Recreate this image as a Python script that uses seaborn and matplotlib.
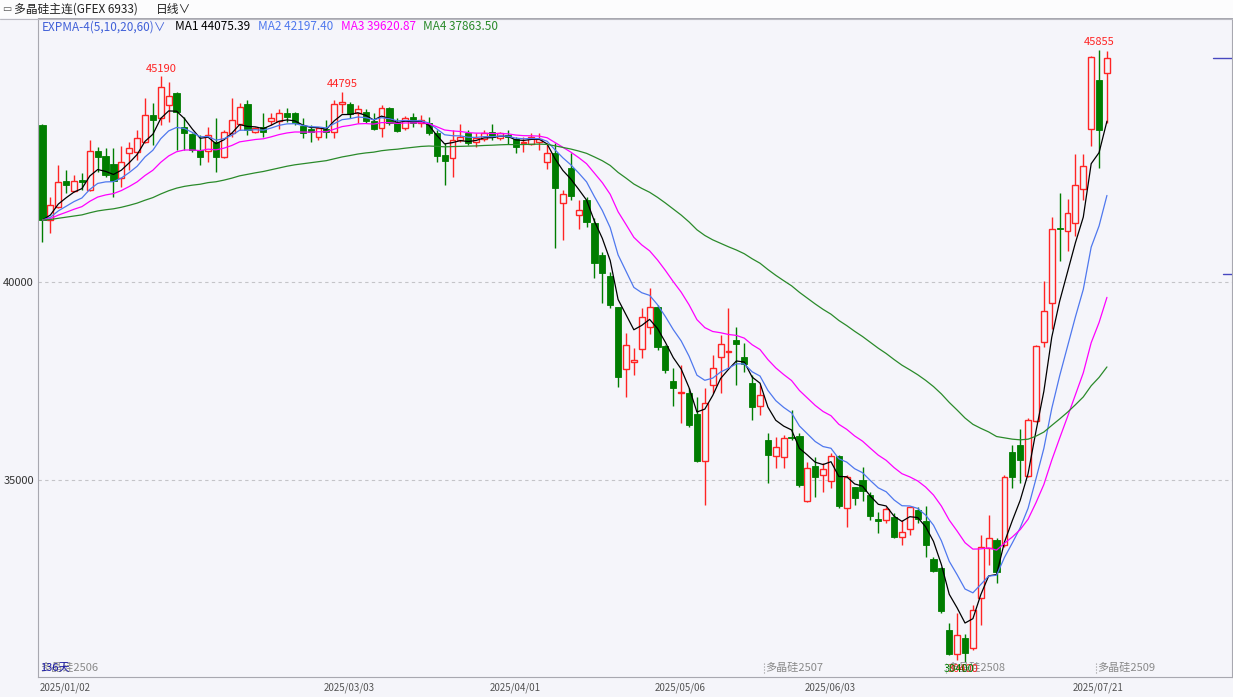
import numpy as np
import pandas as pd
import matplotlib
matplotlib.use('Agg')
import matplotlib.pyplot as plt
import seaborn as sns
from matplotlib.transforms import blended_transform_factory

# 多晶硅主连 日线 OHLC (2025/01/02 - 2025/07/25, 136 个交易日)
opens = [
    43964, 41565, 41901, 42558, 42305, 42575, 42323, 43315, 43182, 42980,
    42618, 43257, 43290, 43543, 44217, 44133, 44469, 44780, 43921, 43737,
    43333, 43308, 43543, 43164, 43755, 43982, 44494, 43780, 43922, 44073,
    44065, 44260, 44260, 43947, 43856, 43669, 43856, 43780, 44487, 44494,
    44260, 44285, 44073, 43881, 44386, 44032, 43881, 44159, 44022, 44007,
    43755, 43207, 43123, 43586, 43770, 43527, 43603, 43795, 43628, 43712,
    43611, 43502, 43484, 43543, 43038, 43265, 41987, 42871, 41684, 42071,
    41497, 40674, 40159, 39376, 37796, 37988, 38300, 38872, 39376, 38384,
    37508, 37190, 37190, 36667, 35488, 37407, 38106, 38225, 38535, 38099,
    37442, 36877, 36010, 35614, 35589, 36094, 36111, 34478, 35354, 35127,
    34983, 35614, 34286, 34816, 35001, 34622, 34008, 33991, 34074, 33554,
    33756, 34243, 33973, 33006, 32786, 31213, 30607, 31003, 30751, 32013,
    33276, 33486, 33359, 35695, 35884, 35091, 36480, 38490, 39482, 41376,
    41288, 41492, 42341, 43873, 45090, 45270]
closes = [
    41565, 41944, 42517, 42449, 42558, 42533, 43315, 43164, 42702, 42558,
    43038, 43384, 43636, 44217, 44090, 44931, 44697, 44300, 43755, 43333,
    43164, 43712, 43164, 43780, 44090, 44411, 43838, 43896, 43780, 44133,
    44260, 44159, 44022, 43755, 43780, 43881, 43780, 44494, 44545, 44234,
    44361, 44073, 43856, 44386, 44007, 43820, 44133, 44022, 44090, 43755,
    43189, 43055, 43586, 43669, 43502, 43628, 43770, 43654, 43755, 43669,
    43416, 43543, 43654, 43611, 43250, 42366, 42222, 42172, 41818, 41523,
    40472, 40235, 39419, 37594, 38410, 38030, 39124, 39361, 38366, 37778,
    37316, 37230, 36389, 35488, 36937, 37821, 38422, 38258, 38427, 37930,
    36836, 37139, 35632, 35841, 36069, 36069, 34874, 35296, 35084, 35271,
    35607, 34344, 35069, 34538, 34731, 34092, 33973, 34260, 33569, 33695,
    34311, 34008, 33359, 32710, 31700, 30607, 31087, 30624, 31718, 33316,
    33528, 32685, 35064, 35064, 35515, 36516, 38374, 39258, 41331, 41331,
    41742, 42459, 42937, 45681, 43828, 45648]
highs = [
    43990, 42154, 42954, 42828, 42702, 42752, 43585, 43401, 43384, 43384,
    43434, 43543, 43838, 44646, 44520, 45190, 45058, 44805, 44174, 43760,
    43712, 43922, 44141, 43838, 44638, 44520, 44596, 43922, 44275, 44267,
    44368, 44393, 44280, 44141, 43964, 43922, 44090, 44596, 44795, 44553,
    44469, 44361, 44260, 44469, 44427, 44133, 44192, 44260, 44214, 44174,
    43838, 43502, 43838, 43990, 43838, 43755, 43838, 43990, 43795, 43838,
    43669, 43669, 43755, 43755, 43502, 43502, 42323, 43250, 42071, 42154,
    41608, 40765, 40260, 39376, 38705, 38326, 39336, 39841, 39419, 38409,
    37821, 37904, 37316, 37104, 37316, 38157, 38662, 39336, 38872, 38452,
    37652, 37400, 36180, 36094, 36137, 36768, 36180, 35463, 35589, 35422,
    35674, 35632, 35127, 34831, 35336, 34705, 34200, 34326, 34159, 33991,
    34326, 34326, 34344, 33064, 32811, 31382, 31650, 31112, 31844, 33612,
    34117, 33528, 35127, 35884, 36288, 36566, 38410, 40025, 41646, 42250,
    42096, 43242, 43242, 45700, 45855, 45825]
lows = [
    41017, 41237, 41880, 42240, 42280, 42323, 42300, 42785, 42659, 42154,
    42406, 42828, 43080, 43510, 43460, 43964, 44048, 43333, 43333, 43283,
    42954, 43038, 42785, 43140, 43669, 43838, 43712, 43755, 43654, 43964,
    43863, 44048, 43964, 43636, 43543, 43586, 43636, 43636, 44260, 44133,
    44022, 44007, 43838, 43669, 43964, 43795, 43838, 43922, 43922, 43712,
    43038, 42449, 42659, 43543, 43460, 43401, 43568, 43586, 43586, 43484,
    43265, 43290, 43460, 43333, 42846, 40851, 41060, 42071, 41331, 41396,
    40093, 39462, 39336, 37357, 37104, 37652, 38073, 38687, 38283, 37695,
    36869, 36432, 36346, 35463, 34369, 37190, 37190, 37821, 37400, 37735,
    36516, 36642, 34932, 35296, 35296, 36010, 34831, 34453, 34579, 34705,
    34791, 34286, 33821, 34369, 34478, 33991, 33655, 33907, 33528, 33359,
    33612, 33907, 33064, 32685, 31634, 30582, 30455, 30400, 30708, 31339,
    32854, 32392, 33309, 34799, 34925, 35076, 36465, 38359, 38813, 40520,
    40790, 41151, 42071, 43424, 42891, 44022]

date_idx = [0, 36, 57, 78, 97, 131]
date_labels = ['2025/01/02', '2025/03/03', '2025/04/01', '2025/05/06', '2025/06/03', '2025/07/21']
contract_idx = [0, 92, 115, 134]
contract_names = ['多晶硅2506', '多晶硅2507', '多晶硅2508', '多晶硅2509']
ema_spans = [5, 10, 20, 60]
ema_names = ['MA1', 'MA2', 'MA3', 'MA4']
ema_values = ['44075.39', '42197.40', '39620.87', '37863.50']
ema_colors = ['#000000', '#4f78ee', '#ff00ff', '#2a8a2a']
peak_idx = [15, 38, 134]
peak_vals = [45190, 44795, 45855]
low_idx = 117
low_val = 30400
grid_levels = [35000, 40000]

BG = '#f5f5fa'
RED = '#ff2424'
GREEN = '#007d00'
W, H = 1233, 697

df = pd.DataFrame({'i': np.arange(len(closes)), 'open': opens, 'high': highs,
                   'low': lows, 'close': closes})
for s in ema_spans:
    df[f'ema{s}'] = df['close'].ewm(span=s, adjust=False).mean()

sns.set_style('white')
plt.rcParams['font.family'] = ['Noto Sans CJK SC', 'DejaVu Sans']

fig = plt.figure(figsize=(W / 100, H / 100), dpi=100)
fig.patch.set_facecolor(BG)
fig.add_artist(plt.Rectangle((0, 1 - 18 / H), 1, 18 / H, transform=fig.transFigure,
                             facecolor='#fcfcfd', edgecolor='none'))
fig.add_artist(plt.Line2D([0, 1], [1 - 18.5 / H] * 2, transform=fig.transFigure,
                          color='#b8b8c0', lw=0.8))

ax = fig.add_axes([38 / W, 20 / H, (1232 - 38) / W, 659 / H])
ax.set_facecolor(BG)

# 网格线
for g in grid_levels:
    ax.axhline(g, color='#c4c4c8', lw=0.8, ls=(0, (3, 3)), zorder=1)

# K线
up = df[df['close'] >= df['open']]
dn = df[df['close'] < df['open']]
ax.vlines(up['i'], up['low'], up['high'], color=RED, lw=1, zorder=2)
ax.bar(up['i'], np.maximum(up['close'] - up['open'], 15), bottom=up['open'], width=0.74,
       facecolor=BG, edgecolor=RED, lw=1, zorder=3)
ax.vlines(dn['i'], dn['low'], dn['high'], color=GREEN, lw=1, zorder=2)
ax.bar(dn['i'], np.maximum(dn['open'] - dn['close'], 15), bottom=dn['close'], width=0.78,
       facecolor=GREEN, edgecolor=GREEN, lw=0.6, zorder=3)

# EXPMA
for s, col in zip(ema_spans, ema_colors):
    sns.lineplot(data=df, x='i', y=f'ema{s}', color=col, lw=0.9, ax=ax, zorder=4)

ax.set_xlim(-0.57, 150.86)
ax.set_ylim(30026, 46666)
ax.set_xlabel('')
ax.set_ylabel('')
ax.set_xticks([])
ax.set_yticks(grid_levels)
ax.set_yticklabels([str(g) for g in grid_levels])
ax.tick_params(axis='y', length=0, pad=3, labelsize=8, labelcolor='#333333')
for sp in ax.spines.values():
    sp.set_color('#a8a8b0')
    sp.set_linewidth(0.8)

# 最高/最低标注
for i, v in zip(peak_idx, peak_vals):
    ax.annotate(str(v), (i, v), xytext=(0, 2), textcoords='offset points',
                ha='center', va='bottom', fontsize=8, color=RED, zorder=6)
ax.annotate(str(low_val), (low_idx - 0.3, low_val), xytext=(0, -1), textcoords='offset points',
            ha='center', va='top', fontsize=8, color=RED, zorder=6)
ax.annotate(str(low_val), (low_idx - 0.8, low_val), xytext=(0, -1), textcoords='offset points',
            ha='center', va='top', fontsize=8, color=GREEN, zorder=6)

# 合约切换标记
tr = blended_transform_factory(ax.transData, ax.transAxes)
for i, name in zip(contract_idx, contract_names):
    if i > 0:
        ax.vlines(i - 0.45, 0.006, 0.022, transform=tr, color='#999999', lw=0.8, ls=':')
    ax.text(i - 0.3, 0.014, name, transform=tr, ha='left', va='center',
            fontsize=8, color='#8a8a8a', zorder=5)
ax.text(-0.3, 0.014, '136天', transform=tr, ha='left', va='center',
        fontsize=8, color='#1c1ca8', zorder=6)

# 日期
for i, lab in zip(date_idx, date_labels):
    ax.text(i - 0.3, -0.0167, lab, transform=tr, ha='left', va='center',
            fontsize=7, color='#555555', clip_on=False)

# 最新价标记
ax.axhline(closes[-1], xmin=(1213 - 38) / 1194, xmax=1, color='#4848c0', lw=1, zorder=5)
ax.axhline(40200, xmin=(1223 - 38) / 1194, xmax=1, color='#4848c0', lw=1, zorder=5)

# 标题栏
fig.text(2 / W, 1 - 9 / H, '▭', fontsize=7, color='#555555', va='center')
fig.text(14 / W, 1 - 9 / H, '多晶硅主连(GFEX 6933)', fontsize=8.5, color='#222222', va='center')
fig.text(156 / W, 1 - 9 / H, '日线∨', fontsize=8.5, color='#222222', va='center')

# 指标图例
fig.text(42 / W, 1 - 27 / H, 'EXPMA-4(5,10,20,60)∨', fontsize=8.5, color='#4060d8', va='center')
for xp, nm, val, col in zip([175, 258, 341, 423], ema_names, ema_values, ema_colors):
    fig.text(xp / W, 1 - 27 / H, f'{nm} {val}', fontsize=8.5, color=col, va='center')

fig.savefig('out.png', dpi=100, facecolor=fig.get_facecolor())
